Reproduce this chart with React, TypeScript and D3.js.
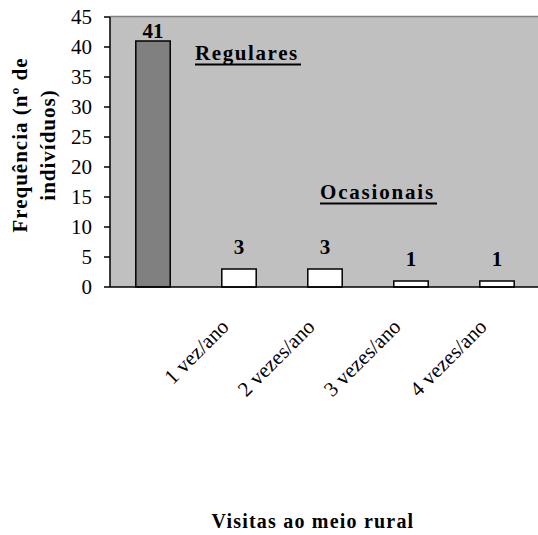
import React from "react";
import * as d3 from "d3";

const categories = ["Regulares", "1 vez/ano", "2 vezes/ano", "3 vezes/ano", "4 vezes/ano"];
const showCategoryLabel = [false, true, true, true, true];
const values = [41, 3, 3, 1, 1];
const barFills = ["#808080", "#ffffff", "#ffffff", "#ffffff", "#ffffff"];
const yTicks = [0, 5, 10, 15, 20, 25, 30, 35, 40, 45];
const groupLabels = ["Regulares", "Ocasionais"];
const yTitle = ["Frequência  (nº de", "indivíduos)"];
const xTitle = "Visitas ao meio rural";

const W = 538;
const H = 535;
const left = 110;
const right = 540;
const top = 17;
const bottom = 287;
const font = "Liberation Serif, Times New Roman, serif";

export default function App() {
  const x = d3.scaleBand<string>().domain(categories).range([left, right]).paddingInner(0.6).paddingOuter(0.3);
  const y = d3.scaleLinear().domain([0, 45]).range([bottom, top]);
  const bw = x.bandwidth();
  return (
    <svg width={W} height={H} style={{ position: "fixed", left: 0, top: 0, background: "#fff", fontFamily: font }}>
      <rect x={left} y={top} width={right - left} height={bottom - top} fill="#c0c0c0" />
      <line x1={left} x2={right} y1={top - 0.5} y2={top - 0.5} stroke="#808080" strokeWidth={1.5} />
      {categories.map((c, i) => (
        <rect key={c} x={x(c)!} y={y(values[i])} width={bw} height={bottom - y(values[i])} fill={barFills[i]} stroke="#000" strokeWidth={1.5} />
      ))}
      {categories.map((c, i) => (
        <text key={"v" + c} x={x(c)! + bw / 2} y={Math.max(y(values[i]) - 15, top + 21)} textAnchor="middle" fontWeight="bold" fontSize={21}>
          {values[i]}
        </text>
      ))}
      <line x1={left} x2={right} y1={bottom} y2={bottom} stroke="#000" strokeWidth={1.5} />
      <line x1={left} x2={left} y1={top} y2={bottom} stroke="#000" strokeWidth={1.5} />
      {yTicks.map((t) => (
        <g key={t}>
          <line x1={left - 6} x2={left} y1={y(t)} y2={y(t)} stroke="#000" strokeWidth={1.5} />
          <text x={92} y={y(t) + 7} textAnchor="end" fontSize={21}>{t}</text>
        </g>
      ))}
      {categories.map((c, i) =>
        showCategoryLabel[i] ? (
          <text key={"l" + c} transform={`translate(${x(c)! + bw / 2 - 9},328) rotate(-45)`} textAnchor="end" fontSize={21}>
            {c}
          </text>
        ) : null
      )}
      <text x={195} y={60} fontWeight="bold" fontSize={21} letterSpacing={1.6}>{groupLabels[0]}</text>
      <line x1={195} x2={301} y1={64.5} y2={64.5} stroke="#000" strokeWidth={2} />
      <text x={320} y={199} fontWeight="bold" fontSize={21} letterSpacing={1.8}>{groupLabels[1]}</text>
      <line x1={320} x2={437} y1={203.5} y2={203.5} stroke="#000" strokeWidth={2} />
      <text transform="translate(27,145) rotate(-90)" textAnchor="middle" fontWeight="bold" fontSize={21} letterSpacing={1}>{yTitle[0]}</text>
      <text transform="translate(55,145) rotate(-90)" textAnchor="middle" fontWeight="bold" fontSize={21} letterSpacing={1}>{yTitle[1]}</text>
      <text x={313} y={528} textAnchor="middle" fontWeight="bold" fontSize={20} letterSpacing={1.2}>{xTitle}</text>
    </svg>
  );
}
